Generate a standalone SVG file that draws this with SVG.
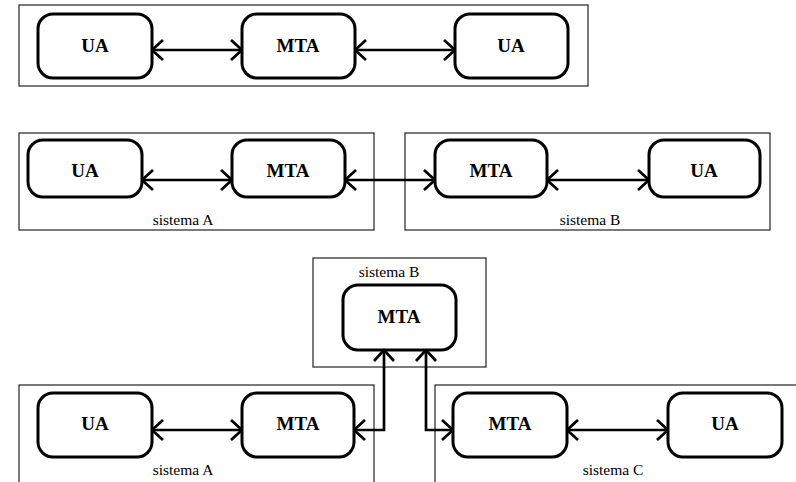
<svg xmlns="http://www.w3.org/2000/svg" width="796" height="482" viewBox="0 0 796 482">
<style>
.sys{fill:none;stroke:#222;stroke-width:1.2}
.node rect{fill:#fff;stroke:#000;stroke-width:3}
.lbl{font-family:"Liberation Serif","Times New Roman",serif;font-weight:bold;font-size:19px;text-anchor:middle;fill:#000}
.sl{font-family:"Liberation Serif","Times New Roman",serif;font-size:15.5px;text-anchor:middle;fill:#000}
.con{fill:none;stroke:#000;stroke-width:2.7;marker-start:url(#ah);marker-end:url(#ah)}
</style>
<defs>
<marker id="ah" viewBox="-14 -13 16 26" refX="0" refY="0" markerWidth="16" markerHeight="26" markerUnits="userSpaceOnUse" orient="auto-start-reverse">
<path d="M-11,-10 L0,0 L-11,10" fill="none" stroke="#000" stroke-width="2.7"/>
</marker>
</defs>
<g id="systems">
<rect class="sys" x="19" y="5" width="569" height="81"/>
<rect class="sys" x="19" y="133" width="355" height="97"/>
<rect class="sys" x="405" y="133" width="365" height="97"/>
<rect class="sys" x="313" y="258" width="173" height="109"/>
<rect class="sys" x="19" y="385" width="355" height="200"/>
<rect class="sys" x="435" y="385" width="400" height="200"/>
<text class="sl" x="183" y="225">sistema A</text>
<text class="sl" x="590" y="225">sistema B</text>
<text class="sl" x="389" y="277">sistema B</text>
<text class="sl" x="183" y="475">sistema A</text>
<text class="sl" x="613" y="475">sistema C</text>
</g>
<g id="connectors">
<path class="con" d="M152,50 H242"/>
<path class="con" d="M355,50 H455"/>
<path class="con" d="M142,180 H232"/>
<path class="con" d="M345,180 H435"/>
<path class="con" d="M547,180 H649"/>
<path class="con" d="M384,350 V430 H354"/>
<path class="con" d="M426,350 V430 H453"/>
<path class="con" d="M152,430 H242"/>
<path class="con" d="M567,430 H668"/>
</g>
<g id="n1" class="node"><rect x="38" y="14" width="114" height="64" rx="15"/><text class="lbl" x="95" y="52">UA</text></g>
<g id="n2" class="node"><rect x="242" y="14" width="113" height="64" rx="15"/><text class="lbl" x="298" y="52">MTA</text></g>
<g id="n3" class="node"><rect x="455" y="14" width="113" height="64" rx="15"/><text class="lbl" x="511" y="52">UA</text></g>
<g id="n4" class="node"><rect x="28" y="140" width="114" height="57" rx="15"/><text class="lbl" x="85" y="177">UA</text></g>
<g id="n5" class="node"><rect x="232" y="140" width="113" height="57" rx="15"/><text class="lbl" x="288" y="177">MTA</text></g>
<g id="n6" class="node"><rect x="435" y="140" width="112" height="57" rx="15"/><text class="lbl" x="491" y="177">MTA</text></g>
<g id="n7" class="node"><rect x="649" y="140" width="111" height="57" rx="15"/><text class="lbl" x="704" y="177">UA</text></g>
<g id="n8" class="node"><rect x="343" y="285" width="113" height="65" rx="15"/><text class="lbl" x="399" y="323">MTA</text></g>
<g id="n9" class="node"><rect x="38" y="393" width="114" height="64" rx="15"/><text class="lbl" x="95" y="430">UA</text></g>
<g id="n10" class="node"><rect x="242" y="393" width="112" height="64" rx="15"/><text class="lbl" x="298" y="430">MTA</text></g>
<g id="n11" class="node"><rect x="453" y="393" width="114" height="64" rx="15"/><text class="lbl" x="510" y="430">MTA</text></g>
<g id="n12" class="node"><rect x="668" y="393" width="114" height="64" rx="15"/><text class="lbl" x="725" y="430">UA</text></g>
</svg>
